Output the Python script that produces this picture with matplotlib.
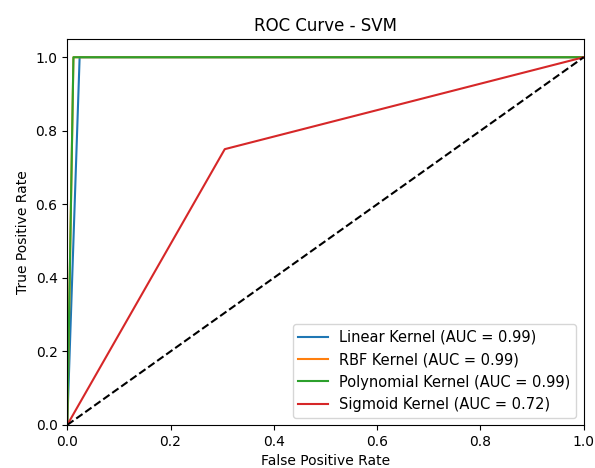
import matplotlib
matplotlib.use("Agg")
import matplotlib.pyplot as plt

# ROC points
linear_fpr = [0.0, 0.0, 0.024, 1.0]
linear_tpr = [0.0, 0.0, 1.0, 1.0]
rbf_fpr = [0.0, 0.0, 0.012, 1.0]
rbf_tpr = [0.0, 0.0, 1.0, 1.0]
poly_fpr = [0.0, 0.0, 0.012, 1.0]
poly_tpr = [0.0, 0.0, 1.0, 1.0]
sigmoid_fpr = [0.0, 0.305, 1.0]
sigmoid_tpr = [0.0, 0.75, 1.0]

labels = [
    "Linear Kernel (AUC = 0.99)",
    "RBF Kernel (AUC = 0.99)",
    "Polynomial Kernel (AUC = 0.99)",
    "Sigmoid Kernel (AUC = 0.72)",
]

fig, ax = plt.subplots(figsize=(5.95, 4.68), dpi=100)
ax.plot(linear_fpr, linear_tpr, label=labels[0])
ax.plot(rbf_fpr, rbf_tpr, label=labels[1])
ax.plot(poly_fpr, poly_tpr, label=labels[2])
ax.plot(sigmoid_fpr, sigmoid_tpr, label=labels[3])
ax.plot([0, 1], [0, 1], "k--")

ax.set_xlim(0.0, 1.0)
ax.set_ylim(0.0, 1.05)
ax.set_xlabel("False Positive Rate")
ax.set_ylabel("True Positive Rate")
ax.set_title("ROC Curve - SVM")
ax.legend(loc="lower right", fontsize=10.5)

fig.subplots_adjust(left=0.113, right=0.981, top=0.917, bottom=0.092)
fig.savefig("out.png", dpi=100)
